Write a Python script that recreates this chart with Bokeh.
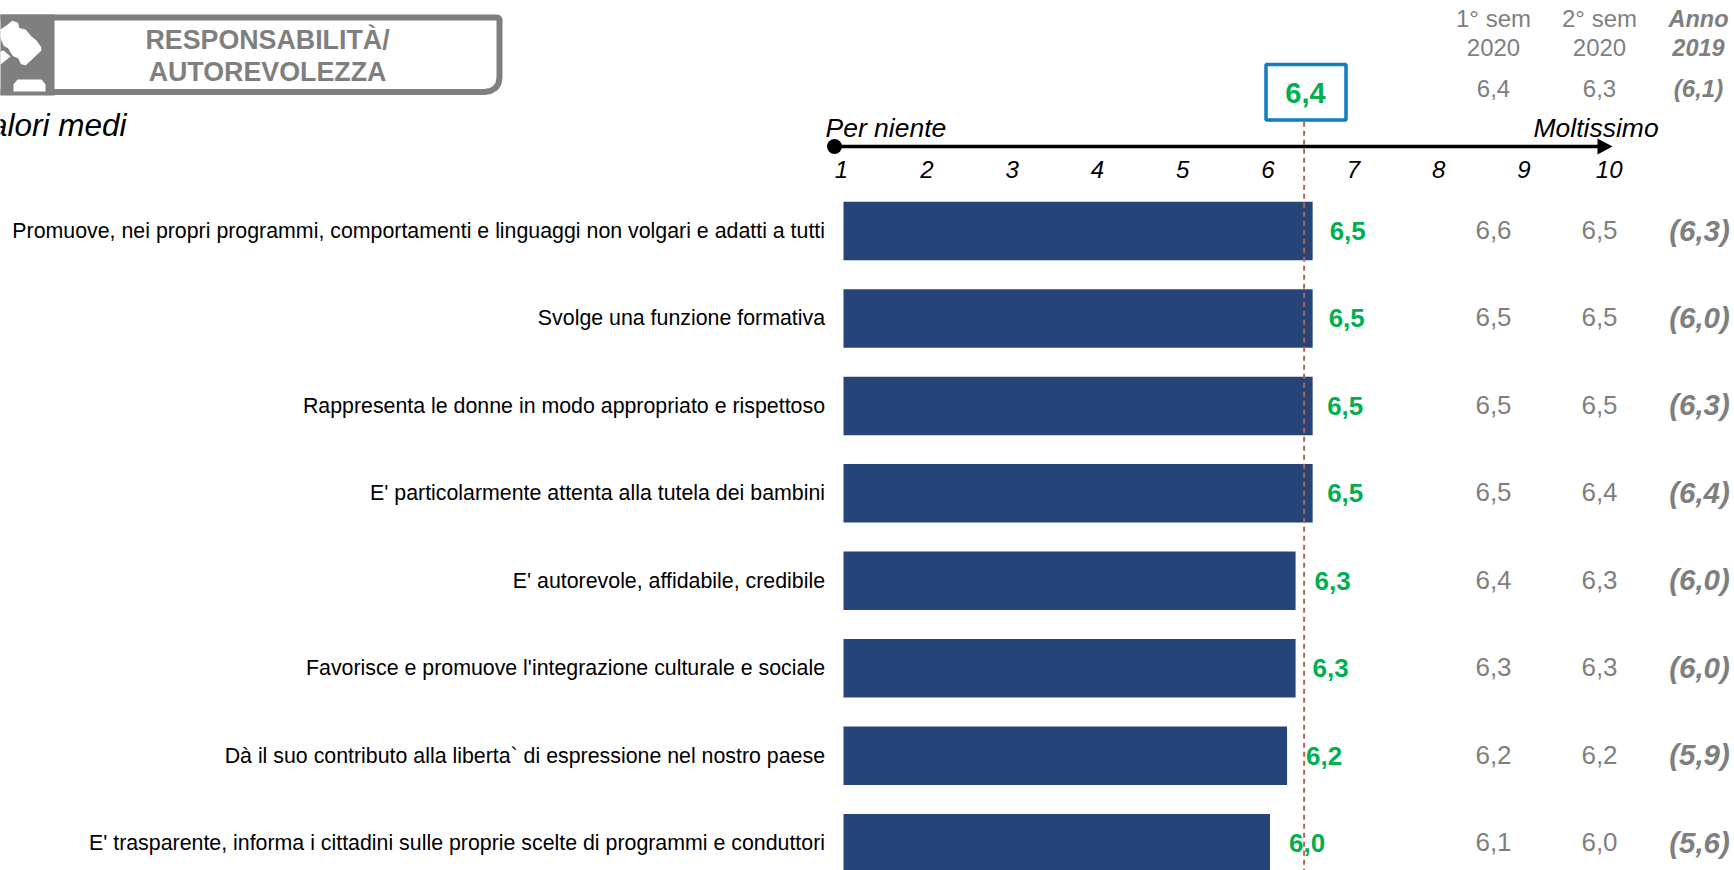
from bokeh.embed import file_html
from bokeh.models import ColumnDataSource, Range1d
from bokeh.plotting import figure
from bokeh.core.properties import value
from bokeh.resources import INLINE

# Survey items and their mean scores, top to bottom
items = [
    "Promuove, nei propri programmi, comportamenti e linguaggi non volgari e adatti a tutti",
    "Svolge una funzione formativa",
    "Rappresenta le donne in modo appropriato e rispettoso",
    "E' particolarmente attenta alla tutela dei bambini",
    "E' autorevole, affidabile, credibile",
    "Favorisce e promuove l'integrazione culturale e sociale",
    "Dà il suo contributo alla liberta` di espressione nel nostro paese",
    "E' trasparente, informa i cittadini sulle proprie scelte di programmi e conduttori",
]
current = [6.5, 6.5, 6.5, 6.5, 6.3, 6.3, 6.2, 6.0]
sem1_2020 = ["6,6", "6,5", "6,5", "6,5", "6,4", "6,3", "6,2", "6,1"]
sem2_2020 = ["6,5", "6,5", "6,5", "6,4", "6,3", "6,3", "6,2", "6,0"]
year_2019 = ["(6,3)", "(6,0)", "(6,3)", "(6,4)", "(6,0)", "(6,0)", "(5,9)", "(5,6)"]

overall = 6.4
overall_text = "6,4"
overall_sem1, overall_sem2, overall_2019 = "6,4", "6,3", "(6,1)"
scale_ticks = [1, 2, 3, 4, 5, 6, 7, 8, 9, 10]

W, H = 1734, 870
PX_PER_UNIT = 85.3
X0 = 843          # pixel of score 1
ROW0, ROW_STEP = 230.5, 87.45

FONT = value("Liberation Sans")
GREY = "#7F7F7F"
GREEN = "#00B050"
NAVY = "#264478"

p = figure(
    width=W, height=H, output_backend="svg", toolbar_location=None,
    x_range=Range1d(1 - X0 / PX_PER_UNIT, 1 + (W - X0) / PX_PER_UNIT),
    y_range=Range1d((H - ROW0) / ROW_STEP, -ROW0 / ROW_STEP),
    min_border=0, outline_line_color=None, background_fill_color="white",
    border_fill_color="white",
)
p.axis.visible = False
p.grid.visible = False
p.extra_x_ranges["px"] = Range1d(0, W)
p.extra_y_ranges["px"] = Range1d(H, 0)
PX = dict(x_range_name="px", y_range_name="px")

rows = list(range(len(items)))

# Score bars and the overall reference line
p.hbar(y=rows, left=1, right=current, height=58.5 / ROW_STEP, fill_color=NAVY, line_color=None)
p.segment(x0=[overall], x1=[overall], y0=[-1.25], y1=[8], x_range_name="default",
          line_color="#B5654E", line_width=2, line_dash="5 4")

# Score value beside each bar
labels = ColumnDataSource(dict(
    x=current, y=rows,
    text=[f"{v:.1f}".replace(".", ",") for v in current],
    gap=[17, 16, 14.5, 14.5, 19, 17, 19, 19],
))
p.text(x="x", y="y", text="text", x_offset="gap", y_offset=0, source=labels,
       text_font=FONT, text_font_style="bold", text_font_size="26px", text_color=GREEN,
       text_align="left", text_baseline="middle")

# Item labels
p.text(x=[824.5] * 8, y=[230.5 + i * ROW_STEP for i in rows], text=items, text_font=FONT, text_font_size="21.35px",
       text_color="black", text_align="right", text_baseline="middle", **PX)

# Comparison columns
COLS = (1493, 1599, 1698)
for cx, col, style, size, shift in ((COLS[0], sem1_2020, "normal", "26px", 0),
                                    (COLS[1], sem2_2020, "normal", "26px", 0),
                                    (COLS[2], year_2019, "bold italic", "29.5px", 1)):
    p.text(x=[cx + shift] * 8, y=[229.5 + i * ROW_STEP for i in rows], text=col, text_font=FONT,
           text_font_style=style, text_font_size=size, text_color=GREY,
           text_align="center", text_baseline="middle", **PX)

# Column headers and the overall row
for cx, lines, summary, style, head_size in ((COLS[0], ("1° sem", "2020"), overall_sem1, "normal", "24px"),
                                             (COLS[1], ("2° sem", "2020"), overall_sem2, "normal", "24px"),
                                             (COLS[2], ("Anno", "2019"), overall_2019, "bold italic", "23.5px")):
    p.text(x=[cx, cx], y=[18, 47], text=list(lines), text_font=FONT, text_font_style=style, text_font_size=head_size,
           text_color=GREY, text_align="center", text_baseline="middle", **PX)
    p.text(x=[cx], y=[88], text=[summary], text_font=FONT, text_font_style=style, text_font_size="24px",
           text_color=GREY, text_align="center", text_baseline="middle", **PX)

# Overall score box
p.quad(left=[1265.5], right=[1345.5], top=[64], bottom=[119.5], fill_color="white", line_color="#0F7FC0", line_width=3.5, **PX)
p.text(x=[1305], y=[92], text=[overall_text], text_font=FONT, text_font_style="bold", text_font_size="29px",
       text_color=GREEN, text_align="center", text_baseline="middle", **PX)

# Scale arrow with its end labels and numbers
p.segment(x0=[834], x1=[1600], y0=[146], y1=[146], line_color="black", line_width=3.5, **PX)
p.scatter(x=[834], y=[146], size=15, marker="circle", fill_color="black", line_color=None, **PX)
p.patch(x=[1597, 1612, 1597], y=[138, 146, 154], fill_color="black", line_color=None, **PX)
p.text(x=[825], y=[127.5], text=["Per niente"], text_font=FONT, text_font_style="italic", text_font_size="26.5px",
       text_color="black", text_align="left", text_baseline="middle", **PX)
p.text(x=[1533], y=[127.5], text=["Moltissimo"], text_font=FONT, text_font_style="italic", text_font_size="26.5px",
       text_color="black", text_align="left", text_baseline="middle", **PX)
p.text(x=scale_ticks, y=[169] * 10, text=[str(t) for t in scale_ticks], x_offset=-2, text_font=FONT,
       text_font_style="italic", text_font_size="24px", text_color="black", text_align="center",
       text_baseline="middle", x_range_name="default", y_range_name="px")

p.text(x=[126], y=[124], text=["Valori medi"], text_font=FONT, text_font_style="italic", text_font_size="31.5px",
       text_color="black", text_align="right", text_baseline="middle", **PX)

# Section banner: grey tab with rounded right corners and a gavel icon
corner_x = [-5, 496, 498, 499, 499, 498, 495, 490, 484, -5]
corner_y = [17, 17, 17.5, 19, 77, 83, 87.5, 90.5, 91.5, 91.5]
p.patch(x=corner_x, y=corner_y, fill_color="white", line_color=GREY, line_width=6, line_join="round", **PX)
p.quad(left=[-5], right=[54], top=[14], bottom=[95], fill_color=GREY, line_color=None, **PX)
head_x = [7, 12, 17, 18, 25, 30, 35, 40, 40, 25, 21, 18, 13, 8, 4, 0, -3]
head_y = [25, 21, 23, 28, 30, 36, 40, 47, 50, 64, 63, 57, 55, 47, 45, 36, 32]
p.patch(x=head_x, y=head_y, fill_color="white", line_color="white", line_width=1.5, line_join="round", **PX)
p.patch(x=[-5, 3, 10, -5], y=[53, 50, 56, 68], fill_color="white", line_color=None, **PX)
p.patch(x=[13, 13, 17, 41, 45, 45], y=[91, 84, 79, 79, 84, 91], fill_color="white", line_color=None, **PX)
p.text(x=[267, 267], y=[39, 71], text=["RESPONSABILITÀ/", "AUTOREVOLEZZA"], text_font=FONT,
       text_font_style="bold", text_font_size="26.8px", text_color=GREY, text_align="center",
       text_baseline="middle", **PX)

open("out.html", "w").write(file_html(p, INLINE))
